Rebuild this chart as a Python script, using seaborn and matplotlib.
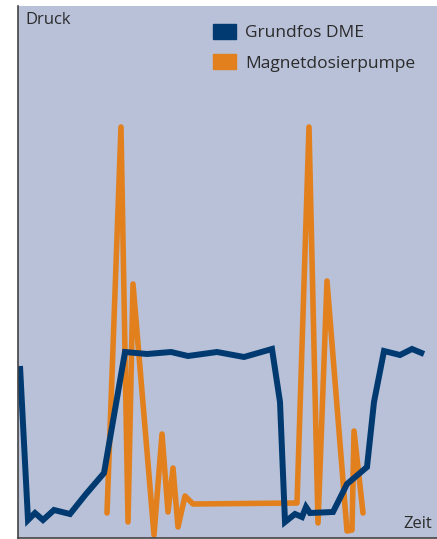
import matplotlib
matplotlib.use('Agg')
import matplotlib.pyplot as plt
import matplotlib.patches as mpatches
import seaborn as sns
import pandas as pd

# Grundfos DME pressure curve (arbitrary units)
dme_t = [2, 10, 17, 25, 36, 52, 68, 86, 107, 129, 153, 170, 199, 226, 254, 262,
         267, 277, 284, 288, 292, 315, 329, 349, 356, 366, 382, 394, 406]
dme_p = [172, 18, 25, 18, 28, 24, 44, 65, 186, 184, 186, 182, 186, 181, 189, 136,
         16, 24, 21, 31, 25, 26, 54, 71, 136, 187, 183, 189, 184]

# Magnetdosierpumpe pressure curve
mag_t = [89, 103, 110, 115, 136, 144, 150, 155, 160, 167, 175, 279, 291, 300,
         309, 329, 334, 336, 345]
mag_p = [25, 411, 16, 254, 3, 104, 26, 70, 11, 42, 34, 35, 411, 15, 257, 7, 8,
         107, 25]

blue = '#003A70'
orange = '#E2801E'
bg = '#B8C1D8'

sns.set_style('white')
plt.rcParams['font.family'] = ['Open Sans', 'DejaVu Sans']

fig = plt.figure(figsize=(4.37, 5.39), dpi=100)
ax = fig.add_axes([18 / 437, 1 / 539, 1 - 18 / 437, 532 / 539])
ax.set_facecolor(bg)

df_dme = pd.DataFrame({'t': dme_t, 'p': dme_p})
df_mag = pd.DataFrame({'t': mag_t, 'p': mag_p})

sns.lineplot(data=df_mag, x='t', y='p', ax=ax, color=orange, lw=4.0,
             sort=False, solid_joinstyle='round', solid_capstyle='round')
sns.lineplot(data=df_dme, x='t', y='p', ax=ax, color=blue, lw=4.3,
             sort=False, solid_joinstyle='miter', solid_capstyle='butt')

ax.set_xlim(0, 419)
ax.set_ylim(0, 532)
ax.set_xticks([])
ax.set_yticks([])
ax.set_xlabel('')
ax.set_ylabel('')
for s in ['top', 'right']:
    ax.spines[s].set_visible(False)
for s in ['left', 'bottom']:
    ax.spines[s].set_color('#444444')
    ax.spines[s].set_linewidth(1.2)

ax.text(7, 526, 'Druck', fontsize=12, color='#2b2b2b', ha='left', va='top')
ax.text(414, 6, 'Zeit', fontsize=12, color='#2b2b2b', ha='right', va='bottom')

handles = [mpatches.Patch(color=blue, label='Grundfos DME'),
           mpatches.Patch(color=orange, label='Magnetdosierpumpe')]
leg = ax.legend(handles=handles, loc='upper left',
                bbox_to_anchor=(186 / 419, 523 / 532), borderpad=0,
                frameon=False, fontsize=12.5, handlelength=1.32,
                handleheight=0.95, handletextpad=0.57, labelspacing=0.75)
for t in leg.get_texts():
    t.set_color('#2b2b2b')

plt.savefig('out.png', dpi=100)
